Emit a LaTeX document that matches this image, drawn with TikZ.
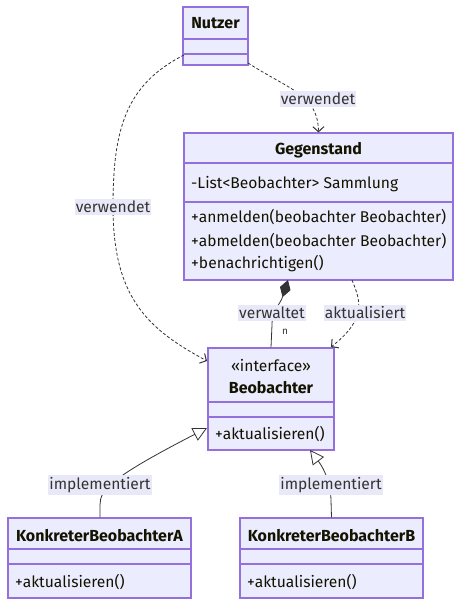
\documentclass[tikz,border=0pt]{standalone}
\usepackage{fontspec}
\setmainfont{Fira Sans}
\usetikzlibrary{arrows.meta}
\definecolor{cfill}{HTML}{ECECFF}
\definecolor{cborder}{HTML}{9370DB}
\definecolor{cline}{HTML}{333333}
\definecolor{lblbg}{HTML}{E8E8F8}
\definecolor{ctext}{HTML}{131300}
\begin{document}
\begin{tikzpicture}[x=1pt,y=-1pt,
  cls/.style={draw=cborder,fill=cfill,line width=1.2pt,inner sep=0pt,rectangle},
  divl/.style={draw=cborder,line width=1.2pt},
  ttl/.style={font=\fontsize{16}{19}\selectfont\bfseries,text=ctext,inner sep=0pt},
  mem/.style={font=\fontsize{15.6}{18}\selectfont,text=ctext,inner sep=0pt,anchor=west},
  ctr/.style={font=\fontsize{15.6}{18}\selectfont,text=ctext,inner sep=0pt},
  lbl/.style={font=\fontsize{15.6}{18}\selectfont,text=cline,fill=lblbg,inner xsep=1pt,inner ysep=2pt},
  dep/.style={draw=cline,densely dashed,line width=0.8pt,-{Straight Barb[length=5,width=11,line width=1pt]}},
  solidl/.style={draw=cline,line width=0.8pt}
]
\useasboundingbox (0,0) rectangle (469,616);

% Nutzer
\node[cls,minimum width=65,minimum height=58] (nutzer) at (215.5,36) {};
\draw[divl] (183,39) -- (248,39);
\draw[divl] (183,54) -- (248,54);
\node[ttl] (nutzerT) at (215.5,23) {Nutzer};

% Gegenstand
\node[cls,minimum width=269,minimum height=147] (gegen) at (318.5,206.5) {};
\draw[divl] (184,163) -- (453,163);
\draw[divl] (184,202) -- (453,202);
\node[ttl] (gegenT) at (318.5,150) {Gegenstand};
\node[mem] (gA) at (191,184) {-List<Beobachter> Sammlung};
\node[mem] (gM1) at (191,217) {+anmelden(beobachter Beobachter)};
\node[mem] (gM2) at (191,241) {+abmelden(beobachter Beobachter)};
\node[mem] (gM3) at (191,264) {+benachrichtigen()};

% Beobachter
\node[cls,minimum width=126,minimum height=102] (beob) at (271,399) {};
\draw[divl] (208,402) -- (334,402);
\draw[divl] (208,417) -- (334,417);
\node[ctr] (beobS) at (271,366) {«interface»};
\node[ttl] (beobT) at (271,388) {Beobachter};
\node[mem] (beobM) at (215,434) {+aktualisieren()};

% KonkreterBeobachterA
\node[cls,minimum width=183,minimum height=80] (kba) at (99.5,558) {};
\draw[divl] (8,549) -- (191,549);
\draw[divl] (8,564) -- (191,564);
\node[ttl] (kbaT) at (99.5,536) {KonkreterBeobachterA};
\node[mem] (kbaM) at (15,582) {+aktualisieren()};

% KonkreterBeobachterB
\node[cls,minimum width=183,minimum height=80] (kbb) at (331.5,558) {};
\draw[divl] (240,549) -- (423,549);
\draw[divl] (240,564) -- (423,564);
\node[ttl] (kbbT) at (331.5,536) {KonkreterBeobachterB};
\node[mem] (kbbM) at (247,582) {+aktualisieren()};

% connectors
\coordinate (n1) at (248,63);
\coordinate (n2) at (184,55);
\coordinate (gb1) at (288,280);
\coordinate (gb2) at (352,280);
\coordinate (bt2) at (331,347);
\coordinate (bl) at (207,361);
\coordinate (bi1) at (207,428);
\coordinate (bi2) at (310,450);

\draw[dep] (n1) .. controls (290,90) and (318,95) .. (gegen.north);
\draw[dep] (n2) .. controls (125,85) and (113,130) .. (113,207) .. controls (113,300) and (150,330) .. (bl);
\draw[solidl,-{Diamond[length=18,width=11,fill=cline]}] (beob.north) -- (272,325) .. controls (272,310) and (280,305) .. (gb1);
\draw[dep] (gb2) .. controls (360,300) and (368,318) .. (bt2);
\draw[solidl,-{Triangle[open,length=14,width=14,fill=white]}] (kba.north -| 100,518) -- (100,505) .. controls (100,490) and (110,478) .. (bi1);
\draw[solidl,-{Triangle[open,length=14,width=14,fill=white]}] (kbb.north) -- (331,500) .. controls (331,485) and (325,470) .. (bi2);

% labels
\node[lbl] (l1) at (318,99) {verwendet};
\node[lbl] (l2) at (113,207) {verwendet};
\node[lbl] (l3) at (272,313) {verwaltet};
\node[font=\fontsize{10}{12}\selectfont,text=cline,inner sep=0pt] (l3n) at (285,332) {n};
\node[lbl] (l4) at (365,313) {aktualisiert};
\node[lbl] (l5) at (100,485) {implementiert};
\node[lbl] (l6) at (331,485) {implementiert};
\end{tikzpicture}
\end{document}
